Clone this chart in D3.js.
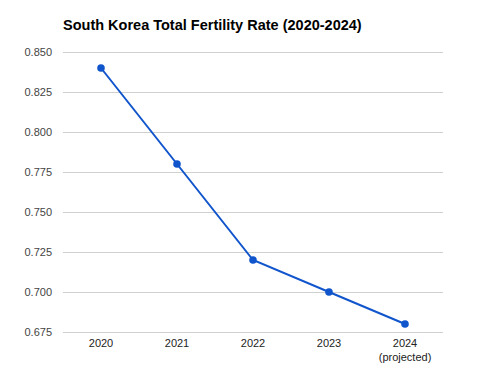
<!DOCTYPE html>
<html>
<head>
<meta charset="utf-8">
<script src="https://cdn.jsdelivr.net/npm/d3@7"></script>
<style>
  body { margin: 0; background: #fff; }
  svg { display: block; font-family: Arial, "Liberation Sans", sans-serif; }
</style>
</head>
<body>
<div id="chart"></div>
<script>
const years = ['2020', '2021', '2022', '2023', '2024'];
const yearNotes = ['', '', '', '', '(projected)'];
const fertility = [0.84, 0.78, 0.72, 0.70, 0.68];
const yTicks = [0.675, 0.700, 0.725, 0.750, 0.775, 0.800, 0.825, 0.850];

const width = 477, height = 379;
const margin = {top: 52, right: 34, bottom: 47, left: 63};

const svg = d3.select('#chart').append('svg')
    .attr('width', width)
    .attr('height', height);

const x = d3.scaleBand()
    .domain(years)
    .range([margin.left, width - margin.right])
    .paddingInner(0)
    .paddingOuter(0);

const y = d3.scaleLinear()
    .domain([0.675, 0.850])
    .range([height - margin.bottom, margin.top]);

// title
svg.append('text')
    .attr('x', margin.left)
    .attr('y', 30)
    .style('font-size', '14.5px')
    .style('font-weight', 'bold')
    .attr('fill', '#000')
    .text('South Korea Total Fertility Rate (2020-2024)');

// gridlines + y labels
const yAxis = svg.append('g')
    .attr('transform', `translate(${margin.left},0)`)
    .call(d3.axisLeft(y).tickValues(yTicks).tickFormat(d3.format('.3f'))
        .tickSize(-(width - margin.left - margin.right)).tickPadding(11));
yAxis.select('.domain').remove();
yAxis.selectAll('.tick line').attr('stroke', '#d0d0d0').attr('stroke-width', 1);
yAxis.selectAll('.tick text')
    .attr('fill', '#444')
    .style('font-size', '11px')
    .style('font-family', 'Arial, "Liberation Sans", sans-serif');

// x labels
const xAxis = svg.append('g')
    .attr('transform', `translate(0,${height - margin.bottom})`)
    .call(d3.axisBottom(x).tickSize(0).tickPadding(7));
xAxis.select('.domain').remove();
xAxis.selectAll('.tick text')
    .attr('fill', '#222')
    .style('font-size', '11px')
    .style('font-family', 'Arial, "Liberation Sans", sans-serif');

xAxis.selectAll('.tick')
    .append('text')
    .attr('y', 28.5)
    .attr('fill', '#222')
    .attr('text-anchor', 'middle')
    .style('font-size', '11px')
    .style('font-family', 'Arial, "Liberation Sans", sans-serif')
    .text((d, i) => yearNotes[i]);

const cx = d => x(d) + x.bandwidth() / 2;

const line = d3.line()
    .x((d, i) => cx(years[i]))
    .y(d => y(d));

svg.append('path')
    .datum(fertility)
    .attr('fill', 'none')
    .attr('stroke', '#1155cc')
    .attr('stroke-width', 2)
    .attr('d', line);

svg.selectAll('circle.pt')
    .data(fertility)
    .enter().append('circle')
    .attr('class', 'pt')
    .attr('cx', (d, i) => cx(years[i]))
    .attr('cy', d => y(d))
    .attr('r', 3.8)
    .attr('fill', '#1155cc');
</script>
</body>
</html>
